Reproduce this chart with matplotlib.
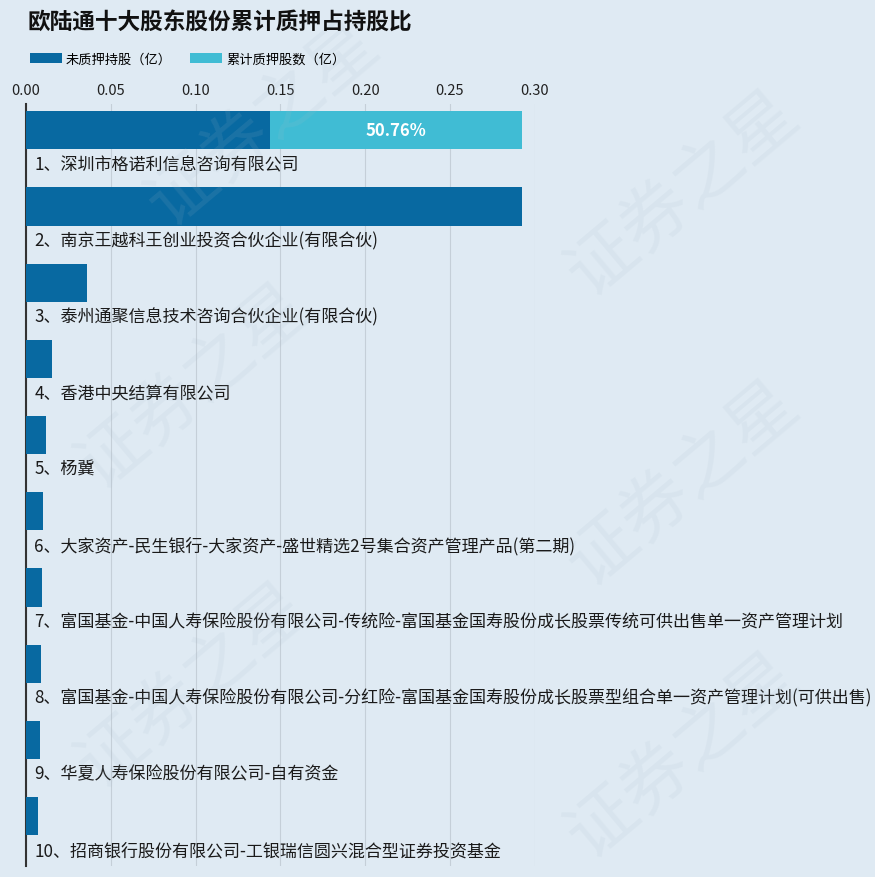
import matplotlib
matplotlib.use("Agg")
import matplotlib.pyplot as plt
from matplotlib.patches import Patch
import numpy as np

plt.rcParams['font.family'] = ['Noto Sans CJK SC', 'DejaVu Sans']

categories = [
    "1、深圳市格诺利信息咨询有限公司",
    "2、南京王越科王创业投资合伙企业(有限合伙)",
    "3、泰州通聚信息技术咨询合伙企业(有限合伙)",
    "4、香港中央结算有限公司",
    "5、杨冀",
    "6、大家资产-民生银行-大家资产-盛世精选2号集合资产管理产品(第二期)",
    "7、富国基金-中国人寿保险股份有限公司-传统险-富国基金国寿股份成长股票传统可供出售单一资产管理计划",
    "8、富国基金-中国人寿保险股份有限公司-分红险-富国基金国寿股份成长股票型组合单一资产管理计划(可供出售)",
    "9、华夏人寿保险股份有限公司-自有资金",
    "10、招商银行股份有限公司-工银瑞信圆兴混合型证券投资基金",
]
unpledged = [0.1440, 0.2924, 0.0362, 0.0155, 0.0115, 0.0098, 0.0092, 0.0086, 0.0080, 0.0068]
pledged = [0.1484, 0, 0, 0, 0, 0, 0, 0, 0, 0]
pledge_pct = ["50.76%", "", "", "", "", "", "", "", "", ""]
xticks = [0.00, 0.05, 0.10, 0.15, 0.20, 0.25, 0.30]
legend_labels = ["未质押持股（亿）", "累计质押股数（亿）"]
title = "欧陆通十大股东股份累计质押占持股比"

bg = "#dfeaf3"
dark = "#0869a1"
light = "#40bcd4"

fig = plt.figure(figsize=(8.75, 8.78), dpi=100, facecolor=bg)

# watermarks
for (x, y) in [(0.30, 0.86), (0.78, 0.78), (0.22, 0.56), (0.78, 0.45), (0.22, 0.22), (0.78, 0.14)]:
    fig.text(x, y, "证券之星", fontsize=50, color="#a9bccb", alpha=0.12,
             rotation=40, ha="center", va="center", zorder=0)

ax = fig.add_axes([26/875, 11/878, (534.7-26)/875, 762/878])
ax.set_facecolor("none")

n = len(categories)
ypos = np.arange(n) + 0.345
ax.barh(ypos, unpledged, height=0.5, color=dark, zorder=3)
ax.barh(ypos, pledged, left=unpledged, height=0.5, color=light, zorder=3)

for i in range(n):
    if pledge_pct[i]:
        ax.text(unpledged[i] + pledged[i] / 2, ypos[i], pledge_pct[i], color="white",
                fontsize=12, fontweight="bold", ha="center", va="center", zorder=4)
    ax.text(0.0048, i + 0.79, categories[i], fontsize=12.25, color="#1a1a1a",
            ha="left", va="center", clip_on=False, zorder=4)

ax.set_ylim(n, 0)
ax.set_xlim(0, 0.30)
ax.set_xticks(xticks)
ax.set_xticklabels([f"{t:.2f}" for t in xticks], fontsize=10.5, color="#222222")
ax.xaxis.tick_top()
ax.tick_params(axis="x", length=0, pad=5)
ax.set_yticks([])
ax.grid(axis="x", color="#c5cfd8", linewidth=0.8, zorder=0)
for s in ["right", "bottom", "top"]:
    ax.spines[s].set_visible(False)
ax.spines["left"].set_color("#333333")
ax.spines["left"].set_linewidth(1.5)

fig.text(28/875, 1 - 22/878, title, fontsize=16.3, fontweight="bold", color="#111111",
         ha="left", va="center")

handles = [Patch(facecolor=dark), Patch(facecolor=light)]
fig.legend(handles, legend_labels, loc="center left", bbox_to_anchor=(25/875, 1 - 60/878),
           ncol=2, frameon=False, fontsize=9.5, handlelength=2.4, handleheight=0.8,
           handletextpad=0.3, columnspacing=1.4, borderaxespad=0)

fig.savefig("out.png", dpi=100, facecolor=bg)
